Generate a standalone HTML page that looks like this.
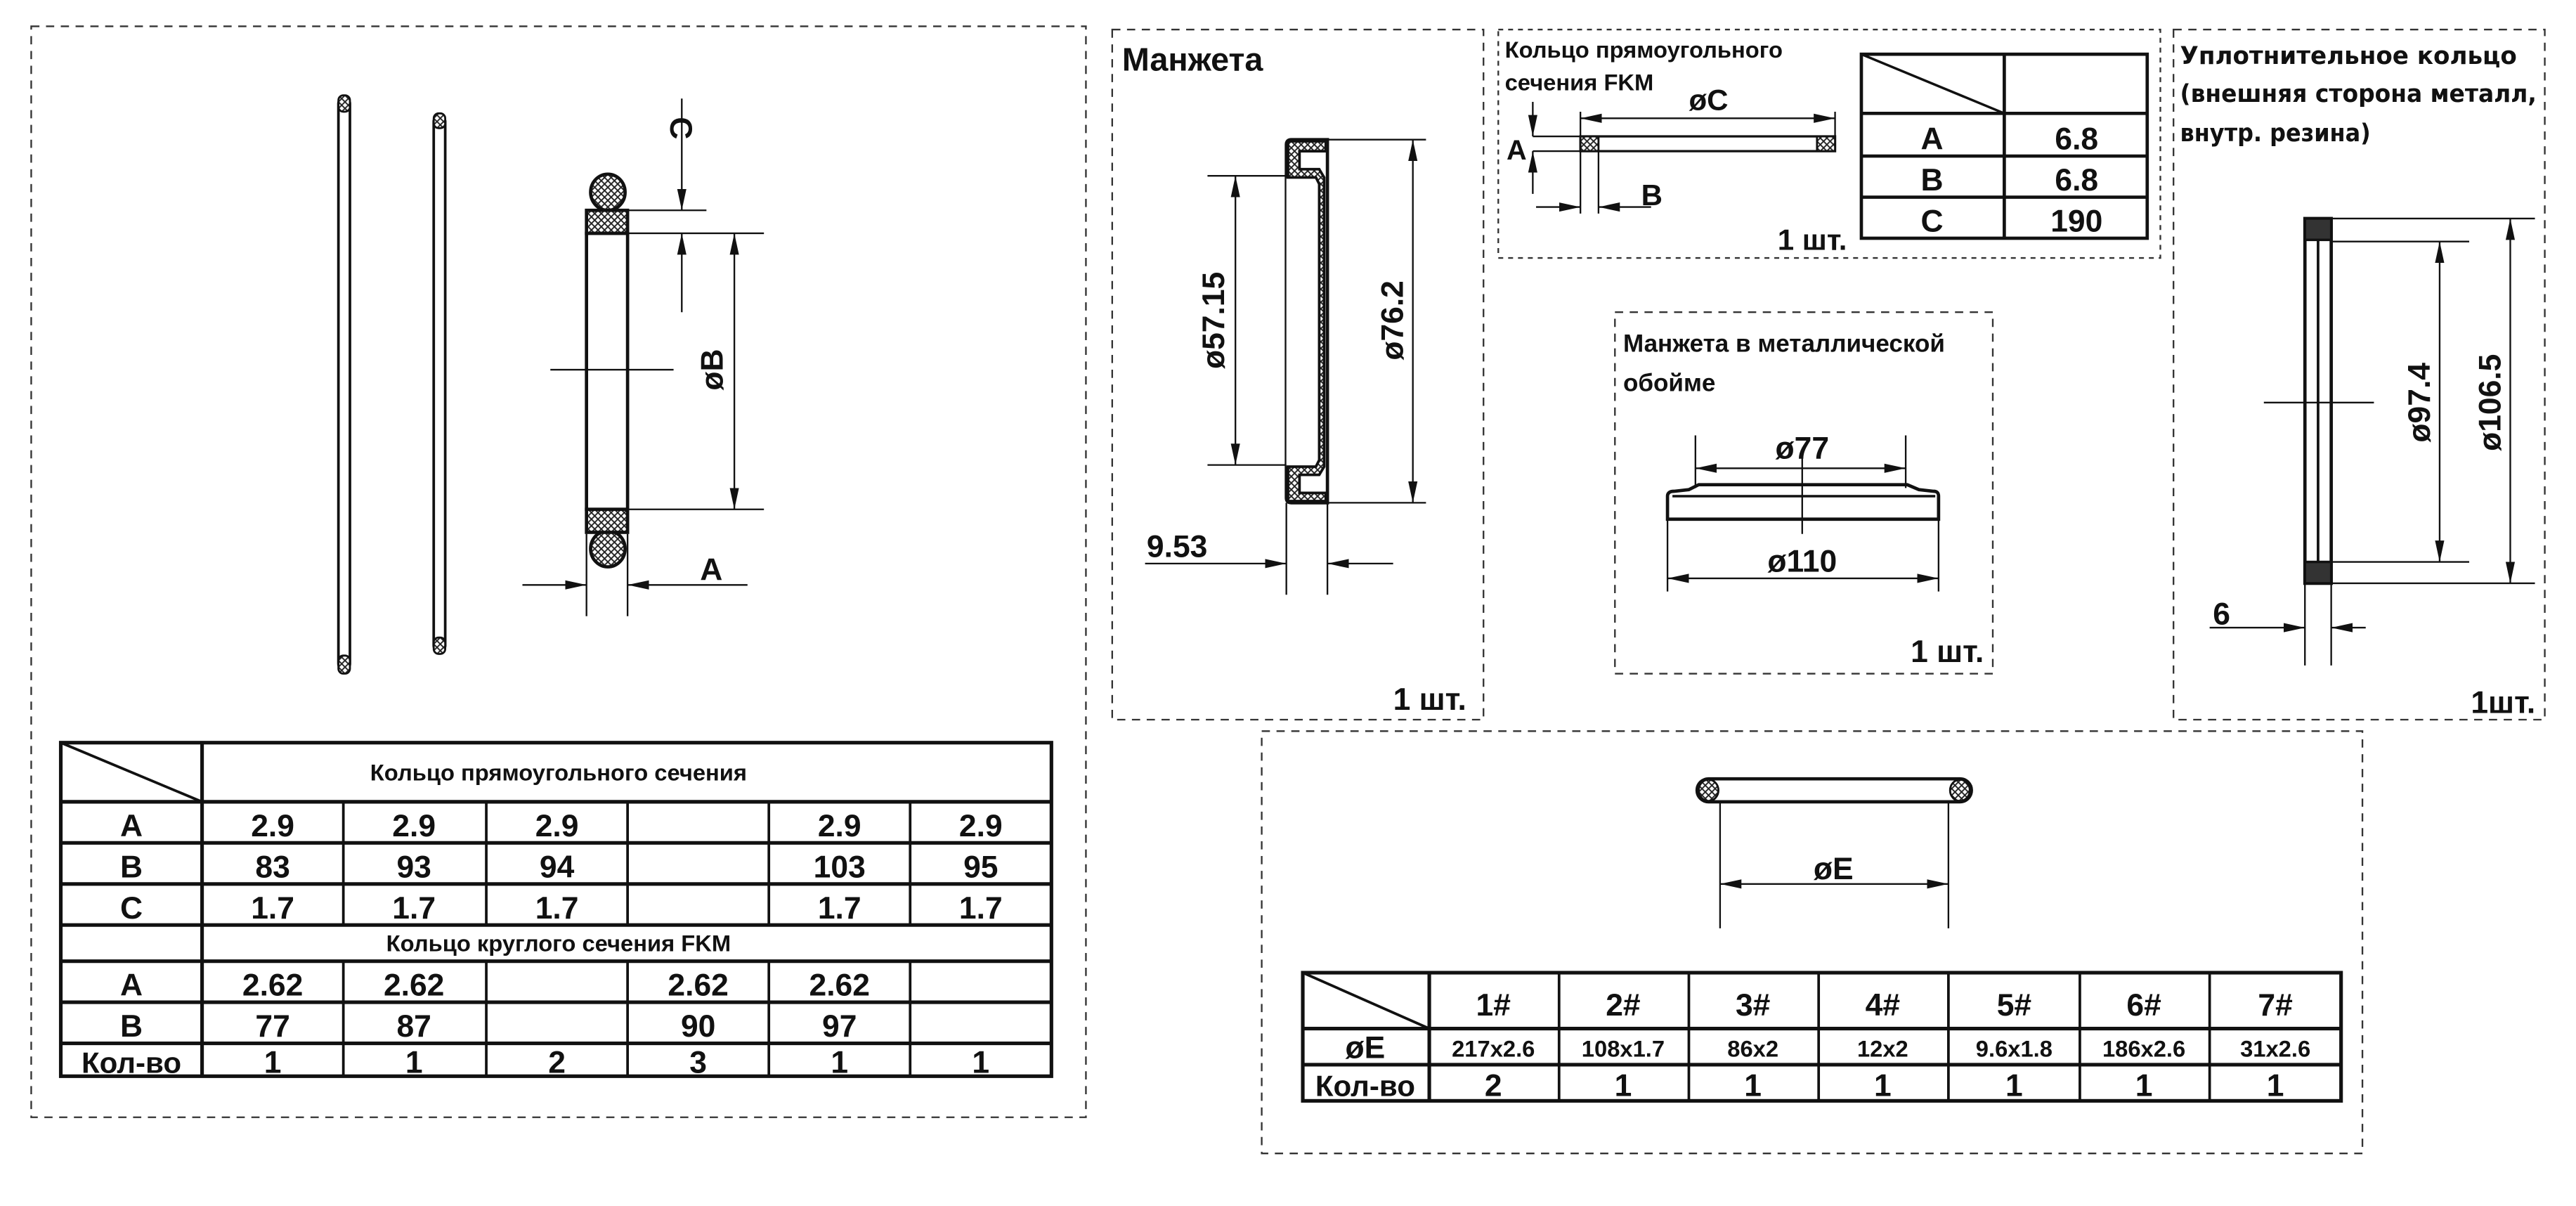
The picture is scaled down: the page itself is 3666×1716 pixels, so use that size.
<!DOCTYPE html>
<html><head><meta charset="utf-8"><style>
html,body{margin:0;padding:0;background:#fff;}
svg{display:block;}
text{font-family:"Liberation Sans","Noto Sans CJK SC",sans-serif;font-weight:bold;fill:#111;}
</style></head><body>
<svg xmlns="http://www.w3.org/2000/svg" width="3666" height="1716" viewBox="0 0 1568 734" preserveAspectRatio="none">
<defs>
<pattern id="h" width="4" height="4" patternUnits="userSpaceOnUse">
<rect width="4" height="4" fill="#fff"/>
<path d="M0,0L4,4M4,0L0,4" stroke="#222" stroke-width="0.8"/>
</pattern>
<marker id="ae" markerUnits="userSpaceOnUse" markerWidth="14" markerHeight="8" refX="13" refY="4" orient="auto"><path d="M0,1.2L13,4L0,6.8Z" fill="#111"/></marker>
<marker id="as" markerUnits="userSpaceOnUse" markerWidth="14" markerHeight="8" refX="1" refY="4" orient="auto"><path d="M14,1.2L1,4L14,6.8Z" fill="#111"/></marker>
</defs>
<g fill="none" stroke="#333" stroke-width="1" stroke-dasharray="5,4">
<rect x="19" y="16" width="642" height="664"/>
<rect x="677" y="18" width="226" height="420"/>
<rect x="912" y="18" width="403" height="139" stroke-dasharray="3,3"/>
<rect x="983" y="190" width="230" height="220"/>
<rect x="1323" y="18" width="226" height="420"/>
<rect x="768" y="445" width="670" height="257"/>
</g>

<g stroke="#111" fill="none">
<rect x="206" y="60" width="7" height="347" stroke-width="1.6" rx="3"/>
<rect x="206" y="58" width="7" height="10" fill="url(#h)" rx="3" stroke-width="1.2"/>
<rect x="206" y="399" width="7" height="11" fill="url(#h)" rx="3" stroke-width="1.2"/>
<rect x="264" y="71" width="7" height="325" stroke-width="1.6" rx="3"/>
<rect x="264" y="69" width="7" height="9" fill="url(#h)" rx="3" stroke-width="1.2"/>
<rect x="264" y="388" width="7" height="10" fill="url(#h)" rx="3" stroke-width="1.2"/>
<ellipse cx="370" cy="117" rx="10.5" ry="11" fill="url(#h)" stroke-width="2"/>
<ellipse cx="370" cy="334" rx="10.5" ry="11" fill="url(#h)" stroke-width="2"/>
<rect x="357" y="142" width="25" height="168" stroke-width="2"/>
<rect x="357" y="128" width="25" height="14" fill="url(#h)" stroke-width="2"/>
<rect x="357" y="310" width="25" height="14" fill="url(#h)" stroke-width="2"/>
<g stroke-width="1">
<line x1="382" y1="128" x2="430" y2="128"/>
<line x1="382" y1="142" x2="465" y2="142"/>
<line x1="382" y1="310" x2="465" y2="310"/>
<line x1="415" y1="60" x2="415" y2="128" marker-end="url(#ae)"/>
<line x1="415" y1="190" x2="415" y2="142" marker-end="url(#ae)"/>
<line x1="447" y1="142" x2="447" y2="310" marker-start="url(#as)" marker-end="url(#ae)"/>
<line x1="335" y1="225" x2="410" y2="225"/>
<line x1="357" y1="325" x2="357" y2="375"/>
<line x1="382" y1="325" x2="382" y2="375"/>
<line x1="318" y1="356" x2="357" y2="356" marker-end="url(#ae)"/>
<line x1="455" y1="356" x2="382" y2="356" marker-end="url(#ae)"/>
</g>
</g>
<text x="408" y="78" font-size="19" transform="rotate(90 408 78)" text-anchor="middle">C</text>
<text x="440" y="225" font-size="19" transform="rotate(-90 440 225)" text-anchor="middle">øB</text>
<text x="433" y="353" font-size="19" text-anchor="middle">A</text>

<g stroke="#111" stroke-width="2.2" fill="none">
<rect x="37" y="452" width="603" height="203"/>
<line x1="37" y1="488" x2="640" y2="488"/>
<line x1="37" y1="513" x2="640" y2="513"/>
<line x1="37" y1="538" x2="640" y2="538"/>
<line x1="37" y1="563" x2="640" y2="563"/>
<line x1="37" y1="585" x2="640" y2="585"/>
<line x1="37" y1="610" x2="640" y2="610"/>
<line x1="37" y1="635" x2="640" y2="635"/>
<line x1="123" y1="452" x2="123" y2="655"/>
<line x1="37" y1="452" x2="123" y2="488" stroke-width="1.6"/>
<g stroke-width="1.6">
<line x1="209" y1="488" x2="209" y2="563"/><line x1="296" y1="488" x2="296" y2="563"/><line x1="382" y1="488" x2="382" y2="563"/><line x1="468" y1="488" x2="468" y2="563"/><line x1="554" y1="488" x2="554" y2="563"/>
<line x1="209" y1="585" x2="209" y2="655"/><line x1="296" y1="585" x2="296" y2="655"/><line x1="382" y1="585" x2="382" y2="655"/><line x1="468" y1="585" x2="468" y2="655"/><line x1="554" y1="585" x2="554" y2="655"/>
</g>
</g>
<g font-size="19" text-anchor="middle">
<text x="340" y="475" font-size="14">Кольцо прямоугольного сечения</text>
<text x="80" y="509">A</text><text x="166" y="509">2.9</text><text x="252" y="509">2.9</text><text x="339" y="509">2.9</text><text x="511" y="509">2.9</text><text x="597" y="509">2.9</text>
<text x="80" y="534">B</text><text x="166" y="534">83</text><text x="252" y="534">93</text><text x="339" y="534">94</text><text x="511" y="534">103</text><text x="597" y="534">95</text>
<text x="80" y="559">C</text><text x="166" y="559">1.7</text><text x="252" y="559">1.7</text><text x="339" y="559">1.7</text><text x="511" y="559">1.7</text><text x="597" y="559">1.7</text>
<text x="340" y="579" font-size="14">Кольцо круглого сечения FKM</text>
<text x="80" y="606">A</text><text x="166" y="606">2.62</text><text x="252" y="606">2.62</text><text x="425" y="606">2.62</text><text x="511" y="606">2.62</text>
<text x="80" y="631">B</text><text x="166" y="631">77</text><text x="252" y="631">87</text><text x="425" y="631">90</text><text x="511" y="631">97</text>
<text x="80" y="653" font-size="18">Кол-во</text><text x="166" y="653">1</text><text x="252" y="653">1</text><text x="339" y="653">2</text><text x="425" y="653">3</text><text x="511" y="653">1</text><text x="597" y="653">1</text>
</g>

<text x="683" y="43" font-size="20">Манжета</text>
<g stroke="#111" fill="none">
<path d="M783,88 Q783,85 786,85 L808,85 L808,306 L786,306 Q783,306 783,303 Z" stroke-width="2"/>
<path d="M784,86 L807,86 L807,92 L791,92 L791,103 L803,103 L806,108 L806,284 L803,289 L791,289 L791,300 L807,300 L807,305 L784,305 Z" fill="url(#h)" stroke-width="1.6"/>
<path d="M783,108 L801,108 L803,112 L803,280 L801,284 L783,284" stroke-width="1.6" fill="#fff"/>
<g stroke-width="1">
<line x1="808" y1="85" x2="868" y2="85"/><line x1="808" y1="306" x2="868" y2="306"/>
<line x1="735" y1="107" x2="783" y2="107"/><line x1="735" y1="283" x2="783" y2="283"/>
<line x1="752" y1="107" x2="752" y2="283" marker-start="url(#as)" marker-end="url(#ae)"/>
<line x1="860" y1="85" x2="860" y2="306" marker-start="url(#as)" marker-end="url(#ae)"/>
<line x1="783" y1="306" x2="783" y2="362"/><line x1="808" y1="306" x2="808" y2="362"/>
<line x1="697" y1="343" x2="783" y2="343" marker-end="url(#ae)"/>
<line x1="848" y1="343" x2="808" y2="343" marker-end="url(#ae)"/>
</g>
</g>
<text x="745" y="195" font-size="19" transform="rotate(-90 745 195)" text-anchor="middle">ø57.15</text>
<text x="854" y="195" font-size="19" transform="rotate(-90 854 195)" text-anchor="middle">ø76.2</text>
<text x="698" y="339" font-size="19">9.53</text>
<text x="848" y="432" font-size="19">1 шт.</text>

<text x="916" y="35" font-size="14">Кольцо прямоугольного</text>
<text x="916" y="55" font-size="14">сечения FKM</text>
<g stroke="#111" fill="none">
<rect x="962" y="83" width="155" height="9" stroke-width="1.4"/>
<rect x="962" y="83" width="11" height="9" fill="url(#h)" stroke-width="1.2"/>
<rect x="1106" y="83" width="11" height="9" fill="url(#h)" stroke-width="1.2"/>
<g stroke-width="1">
<line x1="962" y1="68" x2="962" y2="130"/><line x1="1117" y1="68" x2="1117" y2="83"/><line x1="973" y1="92" x2="973" y2="130"/>
<line x1="962" y1="72" x2="1117" y2="72" marker-start="url(#as)" marker-end="url(#ae)"/>
<line x1="933" y1="83" x2="962" y2="83"/><line x1="933" y1="92" x2="962" y2="92"/>
<line x1="933" y1="62" x2="933" y2="83" marker-end="url(#ae)"/>
<line x1="933" y1="118" x2="933" y2="92" marker-end="url(#ae)"/>
<line x1="935" y1="126" x2="962" y2="126" marker-end="url(#ae)"/>
<line x1="1005" y1="126" x2="973" y2="126" marker-end="url(#ae)"/>
</g>
</g>
<text x="1040" y="67" font-size="18" text-anchor="middle">øC</text>
<text x="917" y="97" font-size="17">A</text>
<text x="999" y="125" font-size="18">B</text>
<g stroke="#111" stroke-width="2" fill="none">
<rect x="1133" y="33" width="174" height="112"/>
<line x1="1220" y1="33" x2="1220" y2="145"/>
<line x1="1133" y1="69" x2="1307" y2="69"/><line x1="1133" y1="95" x2="1307" y2="95"/><line x1="1133" y1="120" x2="1307" y2="120"/>
<line x1="1133" y1="33" x2="1220" y2="69" stroke-width="1.5"/>
</g>
<g font-size="19" text-anchor="middle">
<text x="1176" y="91">A</text><text x="1264" y="91">6.8</text>
<text x="1176" y="116">B</text><text x="1264" y="116">6.8</text>
<text x="1176" y="141">C</text><text x="1264" y="141">190</text>
</g>
<text x="1082" y="152" font-size="18">1 шт.</text>

<text x="988" y="214" font-size="15">Манжета в металлической</text>
<text x="988" y="238" font-size="15">обойме</text>
<g stroke="#111" fill="none">
<path d="M1015,316 L1015,302 Q1015,299 1019,299 L1028,298 L1034,295 L1161,295 L1168,298 L1177,299 Q1180,299 1180,302 L1180,316 Z" stroke-width="2"/>
<path d="M1018,302 L1178,302" stroke-width="1.5"/>
<g stroke-width="1">
<line x1="1032" y1="265" x2="1032" y2="297"/><line x1="1160" y1="265" x2="1160" y2="297"/>
<line x1="1032" y1="285" x2="1160" y2="285" marker-start="url(#as)" marker-end="url(#ae)"/>
<line x1="1097" y1="275" x2="1097" y2="325"/>
<line x1="1015" y1="316" x2="1015" y2="360"/><line x1="1180" y1="316" x2="1180" y2="360"/>
<line x1="1015" y1="352" x2="1180" y2="352" marker-start="url(#as)" marker-end="url(#ae)"/>
</g>
</g>
<text x="1097" y="279" font-size="19" text-anchor="middle">ø77</text>
<text x="1097" y="348" font-size="19" text-anchor="middle">ø110</text>
<text x="1163" y="403" font-size="19">1 шт.</text>

<text x="1327" y="39" font-size="15" style="font-family:'DejaVu Sans',sans-serif" textLength="205" lengthAdjust="spacingAndGlyphs">Уплотнительное кольцо</text>
<text x="1327" y="62" font-size="15" style="font-family:'DejaVu Sans',sans-serif" textLength="217" lengthAdjust="spacingAndGlyphs">(внешняя сторона металл,</text>
<text x="1327" y="86" font-size="15" style="font-family:'DejaVu Sans',sans-serif" textLength="116" lengthAdjust="spacingAndGlyphs">внутр. резина)</text>
<g stroke="#111" fill="none">
<rect x="1403" y="133" width="16" height="222" stroke-width="2"/>
<rect x="1403" y="133" width="16" height="13" fill="#333" stroke-width="1.5"/>
<rect x="1403" y="342" width="16" height="13" fill="#333" stroke-width="1.5"/>
<line x1="1411" y1="146" x2="1411" y2="342" stroke-width="1.6"/>
<g stroke-width="1">
<line x1="1419" y1="133" x2="1543" y2="133"/><line x1="1419" y1="355" x2="1543" y2="355"/>
<line x1="1419" y1="147" x2="1503" y2="147"/><line x1="1419" y1="342" x2="1503" y2="342"/>
<line x1="1485" y1="147" x2="1485" y2="342" marker-start="url(#as)" marker-end="url(#ae)"/>
<line x1="1528" y1="133" x2="1528" y2="355" marker-start="url(#as)" marker-end="url(#ae)"/>
<line x1="1378" y1="245" x2="1445" y2="245"/>
<line x1="1403" y1="355" x2="1403" y2="405"/><line x1="1419" y1="355" x2="1419" y2="405"/>
<line x1="1345" y1="382" x2="1403" y2="382" marker-end="url(#ae)"/>
<line x1="1440" y1="382" x2="1419" y2="382" marker-end="url(#ae)"/>
</g>
</g>
<text x="1479" y="245" font-size="19" transform="rotate(-90 1479 245)" text-anchor="middle">ø97.4</text>
<text x="1522" y="245" font-size="19" transform="rotate(-90 1522 245)" text-anchor="middle">ø106.5</text>
<text x="1347" y="380" font-size="19">6</text>
<text x="1504" y="434" font-size="19">1шт.</text>

<g stroke="#111" fill="none">
<rect x="1033" y="474" width="167" height="14" rx="7" stroke-width="2"/>
<ellipse cx="1040" cy="481" rx="6" ry="6.5" fill="url(#h)" stroke-width="1.2"/>
<ellipse cx="1193" cy="481" rx="6" ry="6.5" fill="url(#h)" stroke-width="1.2"/>
<g stroke-width="1">
<line x1="1047" y1="488" x2="1047" y2="565"/><line x1="1186" y1="488" x2="1186" y2="565"/>
<line x1="1047" y1="538" x2="1186" y2="538" marker-start="url(#as)" marker-end="url(#ae)"/>
</g>
</g>
<text x="1116" y="535" font-size="19" text-anchor="middle">øE</text>
<g stroke="#111" stroke-width="2.2" fill="none">
<rect x="793" y="592" width="632" height="78"/>
<line x1="793" y1="626" x2="1425" y2="626"/><line x1="793" y1="648" x2="1425" y2="648"/>
<line x1="870" y1="592" x2="870" y2="670"/>
<g stroke-width="1.6">
<line x1="949" y1="592" x2="949" y2="670"/><line x1="1028" y1="592" x2="1028" y2="670"/><line x1="1107" y1="592" x2="1107" y2="670"/><line x1="1186" y1="592" x2="1186" y2="670"/><line x1="1266" y1="592" x2="1266" y2="670"/><line x1="1345" y1="592" x2="1345" y2="670"/>
</g>
<line x1="793" y1="592" x2="870" y2="626" stroke-width="1.6"/>
</g>
<g text-anchor="middle" font-size="19">
<text x="909" y="618">1#</text><text x="988" y="618">2#</text><text x="1067" y="618">3#</text><text x="1146" y="618">4#</text><text x="1226" y="618">5#</text><text x="1305" y="618">6#</text><text x="1385" y="618">7#</text>
<text x="831" y="644">øE</text>
<g font-size="14"><text x="909" y="643">217x2.6</text><text x="988" y="643">108x1.7</text><text x="1067" y="643">86x2</text><text x="1146" y="643">12x2</text><text x="1226" y="643">9.6x1.8</text><text x="1305" y="643">186x2.6</text><text x="1385" y="643">31x2.6</text></g>
<text x="831" y="667" font-size="18">Кол-во</text>
<text x="909" y="667">2</text><text x="988" y="667">1</text><text x="1067" y="667">1</text><text x="1146" y="667">1</text><text x="1226" y="667">1</text><text x="1305" y="667">1</text><text x="1385" y="667">1</text>
</g>
</svg>
</body></html>
